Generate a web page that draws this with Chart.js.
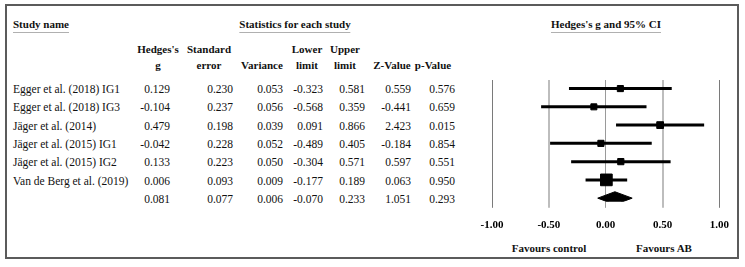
<!DOCTYPE html>
<html>
<head>
<meta charset="utf-8">
<script src="https://cdn.jsdelivr.net/npm/chart.js@4.4.1/dist/chart.umd.min.js"></script>
<style>
html,body{margin:0;padding:0;background:#fff;}
body{width:745px;height:267px;position:relative;overflow:hidden;font-family:"Liberation Serif","Times New Roman",serif;color:#111;}
#frame{position:absolute;left:5px;top:4px;width:734px;height:255px;border:2px solid #5b5b5b;box-sizing:border-box;}
.t{position:absolute;font-size:11.5px;line-height:18px;white-space:nowrap;}
.hd{position:absolute;font-size:11px;font-weight:bold;line-height:16px;white-space:nowrap;text-align:center;transform:translateX(-50%);}
.ttl{position:absolute;font-size:11px;font-weight:bold;line-height:16px;white-space:nowrap;}
.ttl span{border-bottom:1px solid #b0b0b0;padding-bottom:2px;}
#wrap{position:absolute;left:440px;top:60px;width:300px;height:193px;}
</style>
</head>
<body>
<div id="frame"></div>
<div id="table"></div>
<div class="ttl" style="left:13px;top:16px;"><span>Study name</span></div>
<div class="ttl" style="left:295px;top:16px;transform:translateX(-50%);"><span>Statistics for each study</span></div>
<div class="ttl" style="left:606px;top:16px;transform:translateX(-50%);"><span>Hedges's g and 95% CI</span></div>
<div class="hd" style="left:549px;top:240px;">Favours control</div>
<div class="hd" style="left:664px;top:240px;">Favours AB</div>
<div id="wrap"><canvas id="forest"></canvas></div>
<script>
/* Forest plot: Hedges's g with 95% CI */
const studies=['Egger et al. (2018) IG1','Egger et al. (2018) IG3','Jäger et al. (2014)','Jäger et al. (2015) IG1','Jäger et al. (2015) IG2','Van de Berg et al. (2019)',''];
const hedgesG=[0.129,-0.104,0.479,-0.042,0.133,0.006,0.081];
const stdErr=[0.230,0.237,0.198,0.228,0.223,0.093,0.077];
const variance=[0.053,0.056,0.039,0.052,0.050,0.009,0.006];
const lowerLimit=[-0.323,-0.568,0.091,-0.489,-0.304,-0.177,-0.070];
const upperLimit=[0.581,0.359,0.866,0.405,0.571,0.189,0.233];
const zValue=[0.559,-0.441,2.423,-0.184,0.597,0.063,1.051];
const pValue=[0.576,0.659,0.015,0.854,0.551,0.950,0.293];
const headLine1=['Hedges\'s','Standard','','Lower','Upper','',''];
const headLine2=['g','error','Variance','limit','limit','Z-Value','p-Value'];
const xTicks=[-1,-0.5,0,0.5,1];

(function(){
  const ROW0=88.7,ROWH=18.43;
  const colRight=[170,233,283,323,365,411,455];
  const colCenter=[158,209,262,307,345,392,433];
  const cols=[hedgesG,stdErr,variance,lowerLimit,upperLimit,zValue,pValue];
  let html='';
  colCenter.forEach(function(c,j){
    if(headLine1[j])html+='<div class="hd" style="left:'+c+'px;top:41px">'+headLine1[j]+'</div>';
    html+='<div class="hd" style="left:'+c+'px;top:57px">'+headLine2[j]+'</div>';
  });
  studies.forEach(function(s,i){
    const top=(ROW0+ROWH*i-9).toFixed(1);
    if(s)html+='<div class="t" style="left:13px;top:'+top+'px">'+s+'</div>';
    cols.forEach(function(col,j){
      html+='<div class="t" style="right:'+(745-colRight[j])+'px;top:'+top+'px">'+col[i].toFixed(3)+'</div>';
    });
  });
  document.getElementById('table').innerHTML=html;

  const n=studies.length-1; // last row = summary
  const sq=hedgesG.slice(0,n).map(function(g,i){return{x:g,y:i+1};});
  const sqR=variance.slice(0,n).map(function(v){return(2.2+0.9*Math.sqrt(1/v))/1.414;});
  const ci=lowerLimit.slice(0,n).map(function(lo,i){
    return{data:[{x:lo,y:i+1},{x:upperLimit[i],y:i+1}],showLine:true,borderColor:'#000',borderWidth:3,pointRadius:0,order:1};
  });
  const s=n,h=0.35;
  const diamond={data:[{x:lowerLimit[s],y:s+1},{x:hedgesG[s],y:s+1-h},{x:upperLimit[s],y:s+1},{x:hedgesG[s],y:s+1+h},{x:lowerLimit[s],y:s+1}],
    showLine:true,fill:'shape',borderColor:'#000',backgroundColor:'#000',borderWidth:1,borderJoinStyle:'round',pointRadius:0,tension:0,order:1};
  const gridColor=function(ctx){const v=ctx.tick?ctx.tick.value:0;if(Math.abs(v)===0.5)return'#bdbdbd';if(v===0)return'#9a9a9a';return'#7a7a7a';};
  const gridWidth=function(ctx){const v=ctx.tick?ctx.tick.value:0;return Math.abs(v)===0.5?2:1;};

  new Chart(document.getElementById('forest'),{type:'scatter',
    data:{datasets:[{data:sq,pointStyle:'rect',pointRadius:sqR,backgroundColor:'#000',borderColor:'#000',borderWidth:1,showLine:false,order:0}].concat(ci,[diamond])},
    options:{responsive:true,maintainAspectRatio:false,animation:false,events:[],
      layout:{padding:{left:52,right:19,top:20,bottom:10}},
      plugins:{legend:{display:false},tooltip:{enabled:false}},
      scales:{
        x:{type:'linear',min:-1,max:1,afterBuildTicks:function(ax){ax.ticks=xTicks.map(function(v){return{value:v};});},
          border:{display:false},
          grid:{color:gridColor,lineWidth:gridWidth,tickLength:6,drawOnChartArea:true},
          ticks:{color:'#000',padding:11,font:{family:'"Liberation Serif"',size:11,weight:'bold'},callback:function(v){return Number(v).toFixed(2);}}},
        y:{type:'linear',reverse:true,min:0.53,max:7.2,display:false}
      }}});
})();
</script>
</body>
</html>
